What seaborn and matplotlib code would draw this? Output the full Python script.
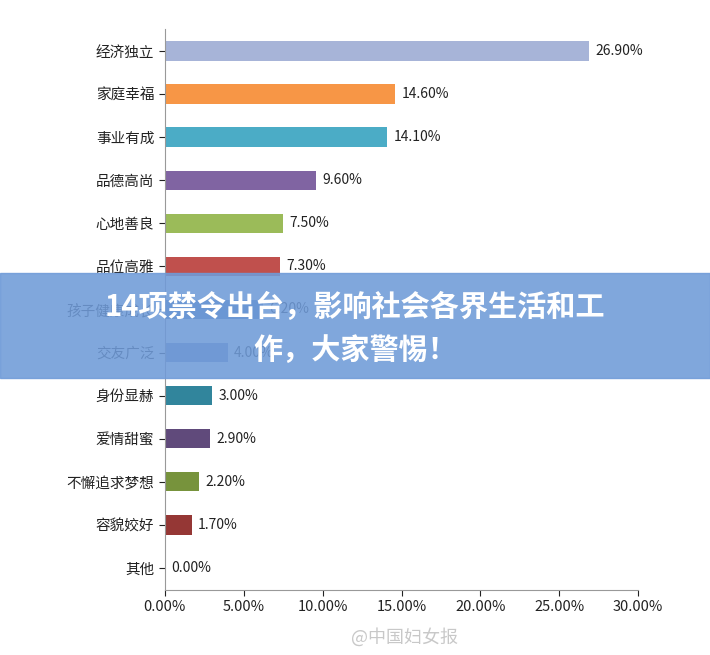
import matplotlib
matplotlib.use("Agg")
import matplotlib.pyplot as plt
import seaborn as sns
import pandas as pd
from matplotlib.patches import Rectangle
from matplotlib.ticker import PercentFormatter

plt.rcParams["font.family"] = ["Noto Sans CJK SC", "DejaVu Sans"]

categories = ["经济独立", "家庭幸福", "事业有成", "品德高尚", "心地善良", "品位高雅",
              "孩子健康成长", "交友广泛", "身份显赫", "爱情甜蜜", "不懈追求梦想", "容貌姣好", "其他"]
values = [26.9, 14.6, 14.1, 9.6, 7.5, 7.3, 6.2, 4.0, 3.0, 2.9, 2.2, 1.7, 0.0]
colors = ["#a7b4d8", "#f79646", "#4bacc6", "#8064a2", "#9bbb59", "#c0504d",
          "#4f81bd", "#7f8fc0", "#31859c", "#604a7b", "#77933c", "#953735", "#888888"]

df = pd.DataFrame({"cat": categories, "val": values})

fig = plt.figure(figsize=(7.10, 6.55), dpi=100)
ax = fig.add_axes([0.232, 0.1, 0.667, 0.855])
sns.barplot(data=df, x="val", y="cat", hue="cat", palette=colors, legend=False,
            width=0.45, ax=ax, saturation=1)
for i, v in enumerate(values):
    ax.text(v + 0.4, i, f"{v:.2f}%", va="center", ha="left", fontsize=10, color="#222222")

ax.set_xlim(0, 30)
ax.set_xticks(range(0, 31, 5))
ax.xaxis.set_major_formatter(PercentFormatter(decimals=2))
ax.set_xlabel("")
ax.set_ylabel("")
ax.tick_params(axis="both", labelsize=10.5, colors="#222222", length=4)
for s in ["top", "right"]:
    ax.spines[s].set_visible(False)
for s in ["left", "bottom"]:
    ax.spines[s].set_color("#999999")

# banner overlay
fig.patches.append(Rectangle((0, 1 - 378 / 655), 1, 105 / 655, transform=fig.transFigure,
                             color="#6f9bd8", alpha=0.88, zorder=10))
fig.text(0.5, 1 - 307 / 655, "14项禁令出台，影响社会各界生活和工", ha="center", va="center",
         fontsize=21, fontweight="bold", color="white", zorder=11)
fig.text(0.5, 1 - 350 / 655, "作，大家警惕！", ha="center", va="center",
         fontsize=21, fontweight="bold", color="white", zorder=11)
fig.text(0.57, 1 - 637 / 655, "@中国妇女报", ha="center", va="center",
         fontsize=13, color="#bbbbbb", alpha=0.8, zorder=11)

fig.savefig("out.png", dpi=100, facecolor="white")
